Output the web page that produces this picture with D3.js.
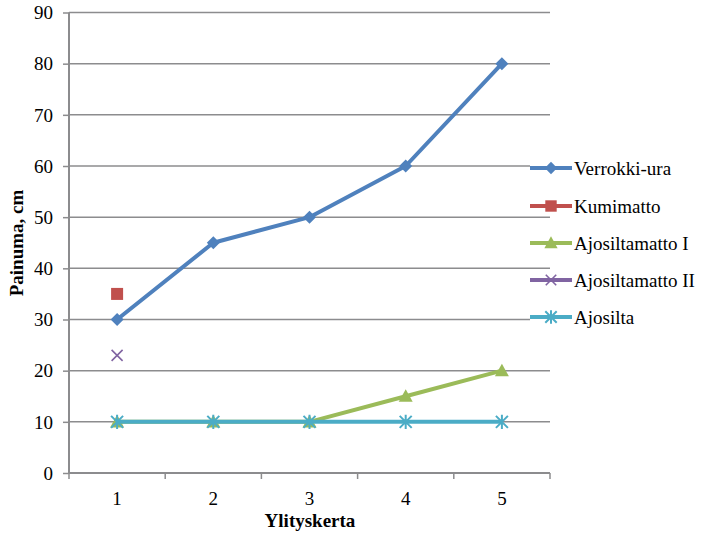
<!DOCTYPE html>
<html><head><meta charset="utf-8">
<script src="https://cdn.jsdelivr.net/npm/d3@7"></script>
<style>body{margin:0;background:#fff}svg{display:block}text{font-family:"Liberation Serif","Times New Roman",serif}</style>
</head><body><svg id="c" width="701" height="543"></svg>
<script>
const categories = [1, 2, 3, 4, 5];
const yTicks = [0, 10, 20, 30, 40, 50, 60, 70, 80, 90];
const seriesNames = ["Verrokki-ura", "Kumimatto", "Ajosiltamatto I", "Ajosiltamatto II", "Ajosilta"];
const verrokki = [30, 45, 50, 60, 80];
const kumimatto = [35, null, null, null, null];
const ajosiltamattoI = [10, 10, 10, 15, 20];
const ajosiltamattoII = [23, null, null, null, null];
const ajosilta = [10, 10, 10, 10, 10];
const colors = ["#4F81BD", "#C0504D", "#9BBB59", "#8064A2", "#4BACC6"];
const markers = ["diamond", "square", "triangle", "x", "star"];
const seriesValues = [verrokki, kumimatto, ajosiltamattoI, ajosiltamattoII, ajosilta];

const svg = d3.select("#c");
const L = 69, R = 550, T = 12.5, B = 473;
const x = d3.scaleBand().domain(categories).range([L, R]);
const y = d3.scaleLinear().domain([0, 90]).range([B, T]);
const font = "Liberation Serif, Times New Roman, serif";
const fs = 19;
const grid = "#8C8C8E";

// gridlines
svg.append("g").selectAll("line").data(yTicks.filter(d => d > 0)).join("line")
  .attr("x1", L).attr("x2", R).attr("y1", d => y(d)).attr("y2", d => y(d))
  .attr("stroke", grid).attr("stroke-width", 1.5);

// y axis
const ya = svg.append("g").attr("transform", `translate(${L},0)`)
  .call(d3.axisLeft(y).tickValues(yTicks).tickSize(6).tickPadding(10));
ya.attr("font-family", font).attr("font-size", fs);
ya.select(".domain").attr("stroke", grid).attr("stroke-width", 2).attr("d", `M-0,${T}V${B}`);
ya.selectAll(".tick line").attr("stroke", grid).attr("stroke-width", 1.5);
ya.selectAll("text").attr("fill", "#000").attr("dy", "0.33em");

// x axis
const xa = svg.append("g").attr("transform", `translate(0,${B})`)
  .call(d3.axisBottom(x).tickSize(0).tickPadding(19));
xa.attr("font-family", font).attr("font-size", fs);
xa.select(".domain").attr("stroke", grid).attr("stroke-width", 2).attr("d", `M${L},0H${R}`);
xa.selectAll("text").attr("fill", "#000");
const bounds = categories.map((c, i) => L + i * x.bandwidth()).concat([R]);
xa.selectAll(".bt").data(bounds).join("line").attr("class", "bt")
  .attr("x1", d => d).attr("x2", d => d).attr("y1", 0).attr("y2", 6)
  .attr("stroke", grid).attr("stroke-width", 1.5);

const cx = c => x(c) + x.bandwidth() / 2;

function drawMarker(g, type, color, px, py, s) {
  s = s || 1;
  if (type === "diamond") {
    const r = 6.5 * s;
    g.append("path").attr("d", `M${px},${py - r}L${px + r},${py}L${px},${py + r}L${px - r},${py}Z`).attr("fill", color);
  } else if (type === "square") {
    const r = 6 * s;
    g.append("rect").attr("x", px - r).attr("y", py - r).attr("width", 2 * r).attr("height", 2 * r).attr("fill", color);
  } else if (type === "triangle") {
    const r = 7 * s;
    g.append("path").attr("d", `M${px},${py - r}L${px + r},${py + r * 0.8}L${px - r},${py + r * 0.8}Z`).attr("fill", color);
  } else if (type === "x") {
    const r = 5.5 * s;
    g.append("path").attr("d", `M${px - r},${py - r}L${px + r},${py + r}M${px - r},${py + r}L${px + r},${py - r}`)
      .attr("stroke", color).attr("stroke-width", 1.6).attr("fill", "none");
  } else if (type === "star") {
    const r = 6 * s;
    g.append("path").attr("d", `M${px - r},${py - r}L${px + r},${py + r}M${px - r},${py + r}L${px + r},${py - r}M${px},${py - r * 1.2}L${px},${py + r * 1.2}`)
      .attr("stroke", color).attr("stroke-width", 2).attr("fill", "none");
  }
}

const line = d3.line().defined(d => d.v != null).x(d => cx(d.c)).y(d => y(d.v));
[0, 1, 2, 3, 4].forEach(i => {
  const data = categories.map((c, j) => ({ c, v: seriesValues[i][j] }));
  const g = svg.append("g");
  g.append("path").datum(data).attr("d", line).attr("fill", "none")
    .attr("stroke", colors[i]).attr("stroke-width", 4).attr("stroke-linejoin", "round");
  data.filter(d => d.v != null).forEach(d => drawMarker(g, markers[i], colors[i], cx(d.c), y(d.v)));
});

// legend
const lg = svg.append("g");
const legY = [168, 206, 243, 280, 317];
seriesNames.forEach((n, i) => {
  const yy = legY[i];
  lg.append("rect").attr("x", 530).attr("y", yy - 8).attr("width", 20).attr("height", 16).attr("fill", "#fff");
  lg.append("line").attr("x1", 530).attr("x2", 572).attr("y1", yy).attr("y2", yy)
    .attr("stroke", colors[i]).attr("stroke-width", 4);
  drawMarker(lg, markers[i], colors[i], 551, yy, 0.95);
  lg.append("text").attr("x", 574).attr("y", yy + 6.5).text(n)
    .attr("font-family", font).attr("font-size", fs).attr("fill", "#000");
});

// axis titles
svg.append("text").attr("transform", "translate(23,243) rotate(-90)").attr("text-anchor", "middle")
  .attr("font-family", font).attr("font-size", fs).attr("font-weight", "bold").text("Painuma, cm");
svg.append("text").attr("x", 310).attr("y", 527).attr("text-anchor", "middle")
  .attr("font-family", font).attr("font-size", fs).attr("font-weight", "bold").text("Ylityskerta");
</script></body></html>
